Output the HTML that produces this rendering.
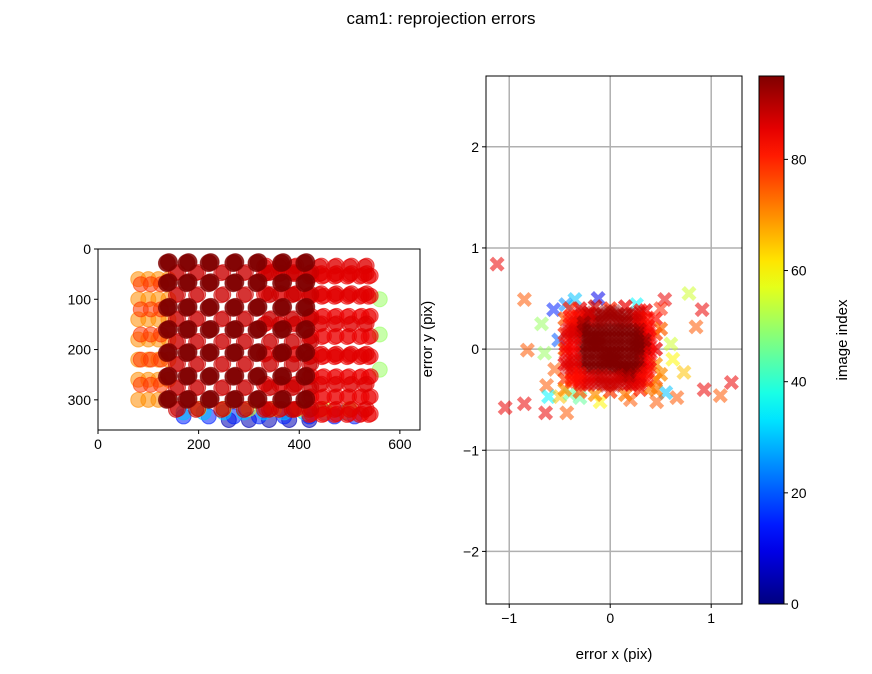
<!DOCTYPE html>
<html><head><meta charset="utf-8"><style>
body{margin:0;background:#fff;}
svg text{font-family:"Liberation Sans","DejaVu Sans",sans-serif;fill:#000;}
</style></head><body>
<svg id="fig" width="872" height="669" xmlns="http://www.w3.org/2000/svg">
<rect width="872" height="669" fill="#fff"/>
<text x="441" y="24" font-size="17" text-anchor="middle">cam1: reprojection errors</text>
<defs><linearGradient id="jetg" x1="0" y1="1" x2="0" y2="0"></linearGradient>
<clipPath id="clipL"><rect x="98" y="249" width="322" height="181"/></clipPath>
<clipPath id="clipR"><rect x="486" y="76" width="256" height="528"/></clipPath></defs>
<g id="left"></g>
<g id="right"></g>
<g id="cbar"></g>
</svg>
<script>
// ---- left plot data (board poses) ----
const poseIdx  = [5, 15, 30, 55, 50, 70, 78, 85, 86, 88, 95];
const poseCols = [
 [260,300,340,380,420],
 [170,220,270,320,370,420,470,510],
 [170,210,250,290,330,370,410,450,490],
 [200,250,300,350,400,450,500],
 [560],
 [80,100,120,140],
 [85,105,125],
 [420,445,470,495,520,538],
 [330,360,390,440,470,500,530],
 [155,195,245,290,340,385,420],
 [137,176,220,269,315,364,410]];
const poseRows = [
 [340],
 [333],
 [325],
 [318],
 [100,170,240],
 [60,100,140,180,220,260,300],
 [70,120,170,220,270],
 [55,95,135,175,215,255,295,330],
 [35,50,90,150,210,270,320],
 [48,92,140,185,230,277,320],
 [28,68,117,161,207,254,300]];
// ---- right plot data (errors) ----
const outX = [-1.12,-0.85,-0.56,-0.68,0.78,0.91,0.85,-0.82,-0.65,-0.63,0.73,0.93,1.2,1.09,-1.04,-0.85,-0.64,-0.43,-0.61,0.66,0.55,-0.5,-0.4,-0.44,-0.35,-0.12,0.26,0.54,-0.51,-0.1,0.2,0.46,-0.3,0.6,0.62,-0.55,0.5];
const outY = [0.84,0.49,0.39,0.25,0.55,0.39,0.22,-0.01,-0.04,-0.36,-0.23,-0.4,-0.33,-0.46,-0.58,-0.54,-0.63,-0.63,-0.47,-0.48,-0.43,-0.47,-0.44,0.44,0.49,0.5,0.44,0.49,0.09,-0.52,-0.5,-0.52,-0.48,0.05,-0.1,-0.2,0.4];
const outC = [85,75,15,50,55,85,75,75,50,75,65,85,85,75,85,85,85,75,35,75,30,65,45,25,30,10,35,85,20,60,75,75,45,55,60,75,80];
const ringX = [-0.45,-0.45,-0.45,-0.45,-0.45,-0.45,0.45,0.45,0.45,0.45,0.45,0.45,-0.3,-0.15,0,0.15,0.3,-0.3,-0.15,0,0.15,0.3,0.5,-0.4,0.35,0.4,-0.38,0.5,0.2,-0.2];
const ringY = [0.3,0.15,0,-0.15,-0.3,-0.4,0.3,0.15,0,-0.15,-0.3,-0.4,0.4,0.42,0.4,0.42,0.38,-0.42,-0.45,-0.42,-0.45,-0.4,-0.25,0.4,0.38,-0.38,-0.3,0.2,-0.35,0.35];
const ringC = [75,80,72,85,78,70,82,78,85,70,75,72,85,88,80,85,82,75,70,78,72,80,70,80,85,72,76,74,82,86];
const coreX = [-0.36,-0.25,-0.12,0,0.12,0.25,0.33,-0.38,-0.25,-0.12,0,0.12,0.25,0.35,-0.4,-0.25,-0.12,0,0.12,0.25,0.36,-0.38,-0.25,-0.12,0,0.12,0.25,0.35,-0.34,-0.25,-0.12,0,0.12,0.25,0.32,-0.3,-0.15,0,0.15,0.3];
const coreY = [0.28,0.32,0.3,0.33,0.3,0.31,0.27,0.15,0.15,0.15,0.15,0.15,0.15,0.15,0,0,0,0,0,0,0,-0.15,-0.15,-0.15,-0.15,-0.15,-0.15,-0.15,-0.28,-0.31,-0.3,-0.32,-0.3,-0.31,-0.27,0.22,0.08,-0.08,-0.22,0.05];
const coreC = [82,88,92,92,92,88,82,86,95,95,95,95,95,84,84,95,95,95,95,95,84,86,95,95,95,95,95,84,82,86,88,88,88,86,82,95,95,95,95,95];
const cbTicks = [0,20,40,60,80];
const lxTicks = [0,200,400,600], lyTicks = [0,100,200,300];
const rxTicks = [-1,0,1], ryTicks = [-2,-1,0,1,2];

const NS="http://www.w3.org/2000/svg";
function mk(tag,attrs,parent){const e=document.createElementNS(NS,tag);for(const k in attrs)e.setAttribute(k,attrs[k]);parent.appendChild(e);return e;}
function jet(v){v=Math.max(0,Math.min(1,v));
 const r=Math.max(0,Math.min(1,1.5-Math.abs(4*v-3))),g=Math.max(0,Math.min(1,1.5-Math.abs(4*v-2))),b=Math.max(0,Math.min(1,1.5-Math.abs(4*v-1)));
 return `rgb(${Math.round(r*255)},${Math.round(g*255)},${Math.round(b*255)})`;}
const CMAX=95;
// left axes
const L={x0:98,x1:420,y0:249,y1:430,xmin:0,xmax:640,ymin:0,ymax:360};
const lx=v=>L.x0+(v-L.xmin)/(L.xmax-L.xmin)*(L.x1-L.x0);
const ly=v=>L.y0+(v-L.ymin)/(L.ymax-L.ymin)*(L.y1-L.y0);
const left=document.getElementById('left');
const lpts=mk('g',{'clip-path':'url(#clipL)'},left);
const jit=[[0,0],[2,-1],[-2,1]];
for(let p=0;p<poseIdx.length;p++){
 const top=poseIdx[p]>=95;
 const reps=poseIdx[p]>=85?(top?2:2):1;
 for(let k=0;k<reps;k++)
 for(const c of poseCols[p]) for(const r of poseRows[p]){
  const col=jet(poseIdx[p]/CMAX);
  const e=mk('circle',{cx:lx(c)+jit[k][0],cy:ly(r)+jit[k][1],r:top?8.5:7.5,fill:col,'fill-opacity':top?0.85:0.55,stroke:col,'stroke-opacity':0.6},lpts);
  
  
 }}
mk('rect',{x:L.x0,y:L.y0,width:L.x1-L.x0,height:L.y1-L.y0,fill:'none',stroke:'#000','stroke-width':1},left);
for(const t of lxTicks){const x=lx(t);mk('line',{x1:x,x2:x,y1:L.y1,y2:L.y1+4,stroke:'#000'},left);
 const tx=mk('text',{x:x,y:L.y1+19,'font-size':14,'text-anchor':'middle'},left);tx.textContent=t;
 
 }
for(const t of lyTicks){const y=ly(t);mk('line',{x1:L.x0-4,x2:L.x0,y1:y,y2:y,stroke:'#000'},left);
 const tx=mk('text',{x:L.x0-7,y:y+5,'font-size':14,'text-anchor':'end'},left);tx.textContent=t;
 
 }
// right axes
const R={x0:486,x1:742,y0:76,y1:604,xmin:-1.23,xmax:1.305,ymin:-2.52,ymax:2.70};
const rx=v=>R.x0+(v-R.xmin)/(R.xmax-R.xmin)*(R.x1-R.x0);
const ry=v=>R.y1-(v-R.ymin)/(R.ymax-R.ymin)*(R.y1-R.y0);
const right=document.getElementById('right');
for(const t of rxTicks)mk('line',{x1:rx(t),x2:rx(t),y1:R.y0,y2:R.y1,stroke:'#b0b0b0','stroke-width':1.5},right);
for(const t of ryTicks)mk('line',{x1:R.x0,x2:R.x1,y1:ry(t),y2:ry(t),stroke:'#b0b0b0','stroke-width':1.5},right);
const rpts=mk('g',{'clip-path':'url(#clipR)'},right);
function xmark(x,y,c,name,op){const s=7.5,w=3.4;
 const d=`M${x-s},${y-s+w}L${x-s+w},${y-s}L${x},${y-w}L${x+s-w},${y-s}L${x+s},${y-s+w}L${x+w},${y}L${x+s},${y+s-w}L${x+s-w},${y+s}L${x},${y+w}L${x-s+w},${y+s}L${x-s},${y+s-w}L${x-w},${y}Z`;
 const e=mk('path',{d:d,fill:jet(c/CMAX),'fill-opacity':op},rpts);
 
 }
for(let i=0;i<outX.length;i++)xmark(rx(outX[i]),ry(outY[i]),outC[i],'error-point',0.55);
for(let i=0;i<ringX.length;i++)xmark(rx(ringX[i]),ry(ringY[i]),ringC[i],'error-point',0.7);
const off=[-0.04,0,0.04];
for(const dx of off)for(const dy of off)for(let i=0;i<coreX.length;i++)xmark(rx(coreX[i]+dx),ry(coreY[i]+dy),coreC[i],'error-point',0.45);
mk('rect',{x:R.x0,y:R.y0,width:R.x1-R.x0,height:R.y1-R.y0,fill:'none',stroke:'#000','stroke-width':1},right);
for(const t of rxTicks){const x=rx(t);mk('line',{x1:x,x2:x,y1:R.y1,y2:R.y1+4,stroke:'#000'},right);
 const tx=mk('text',{x:x,y:R.y1+19,'font-size':14,'text-anchor':'middle'},right);tx.textContent=(t<0?'\u2212':'')+Math.abs(t);
 
 }
for(const t of ryTicks){const y=ry(t);mk('line',{x1:R.x0-4,x2:R.x0,y1:y,y2:y,stroke:'#000'},right);
 const tx=mk('text',{x:R.x0-7,y:y+5,'font-size':14,'text-anchor':'end'},right);tx.textContent=(t<0?'\u2212':'')+Math.abs(t);
 
 }
const xl=mk('text',{x:(R.x0+R.x1)/2,y:659,'font-size':15,'text-anchor':'middle'},right);xl.textContent='error x (pix)';


const yl=mk('text',{x:0,y:0,'font-size':15,'text-anchor':'middle',transform:`translate(432,${ry(0)-10}) rotate(-90)`},right);yl.textContent='error y (pix)';


// colorbar
const cb=document.getElementById('cbar');const C={x0:759,x1:784,y0:76,y1:604};
const grad=document.getElementById('jetg');
for(let i=0;i<=20;i++)mk('stop',{offset:i/20,'stop-color':jet(i/20)},grad);
mk('rect',{x:C.x0,y:C.y0,width:C.x1-C.x0,height:C.y1-C.y0,fill:'url(#jetg)',stroke:'#000'},cb);
const cy=v=>C.y1-v/CMAX*(C.y1-C.y0);
for(const t of cbTicks){const y=cy(t);mk('line',{x1:C.x1,x2:C.x1+4,y1:y,y2:y,stroke:'#000'},cb);
 const tx=mk('text',{x:C.x1+7,y:y+5,'font-size':14},cb);tx.textContent=t;
 
 }
const cl=mk('text',{x:0,y:0,'font-size':15,'text-anchor':'middle',transform:`translate(847,340) rotate(-90)`},cb);cl.textContent='image index';


</script>
</body></html>
